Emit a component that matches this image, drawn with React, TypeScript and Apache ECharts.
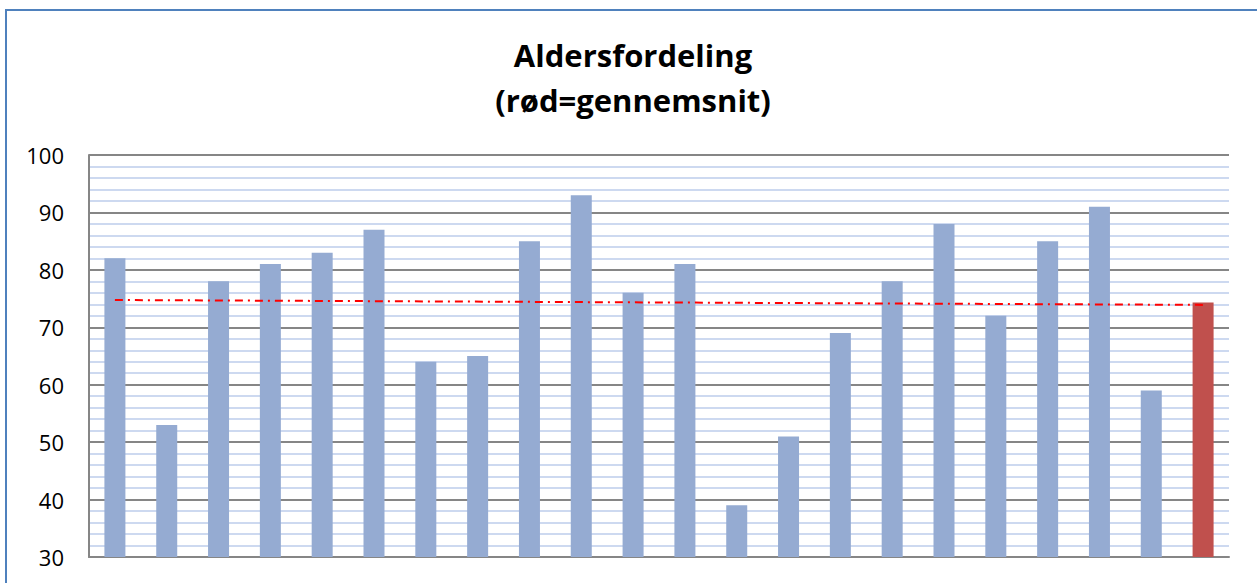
import React, { useEffect, useRef } from "react";
import * as echarts from "echarts";

// ---- data ----
const categories: string[] = [
  "1", "2", "3", "4", "5", "6", "7", "8", "9", "10", "11",
  "12", "13", "14", "15", "16", "17", "18", "19", "20", "21", "Gennemsnit",
];
const ages: number[] = [82, 53, 78, 81, 83, 87, 64, 65, 85, 93, 76, 81, 39, 51, 69, 78, 88, 72, 85, 91, 59];
const averageValue: number = 74.3;
// linear trend line (start at first category, end at last category)
const trendValues: number[] = [74.75, 73.9];
const yTicks = { min: 30, max: 100, interval: 10 };

const titleLines: string[] = ["Aldersfordeling", "(rød=gennemsnit)"];

export default function App() {
  const ref = useRef<HTMLDivElement>(null);

  useEffect(() => {
    document.body.style.margin = "0";
    if (!ref.current) return;
    const chart = echarts.init(ref.current, undefined, { renderer: "svg" });

    const barData: any[] = ages.map((v) => ({ value: v }));
    barData.push({ value: averageValue, itemStyle: { color: "#c0504d" } });

    const trendData = [
      [0, trendValues[0]],
      [categories.length - 1, trendValues[1]],
    ];

    chart.setOption({
      animation: false,
      backgroundColor: "#ffffff",
      title: {
        text: titleLines.join("\n"),
        left: 633,
        top: 32,
        textAlign: "center",
        padding: 0,
        textStyle: {
          fontFamily: "Open Sans",
          fontWeight: "bold",
          fontSize: 31,
          lineHeight: 45,
          color: "#000000",
        },
      },
      graphic: [
        {
          type: "rect",
          shape: { x: 6, y: 10, width: 1400, height: 800 },
          style: { fill: "none", stroke: "#4f81bd", lineWidth: 2 },
          silent: true,
          z: 0,
        },
      ],
      grid: { left: 89, right: 28, top: 155, bottom: 26, containLabel: false },
      xAxis: {
        type: "category",
        data: categories,
        axisLine: { show: true, lineStyle: { color: "#868686", width: 2 } },
        axisTick: { show: false },
        axisLabel: { show: false },
        splitLine: { show: false },
      },
      yAxis: {
        type: "value",
        min: yTicks.min,
        max: yTicks.max,
        interval: yTicks.interval,
        axisLine: { show: true, lineStyle: { color: "#868686", width: 2 } },
        axisTick: { show: false },
        axisLabel: {
          color: "#000000",
          fontFamily: "Open Sans",
          fontSize: 22,
          margin: 25,
        },
        splitLine: { show: true, lineStyle: { color: "#868686", width: 2 } },
        minorTick: { show: false, splitNumber: 5 },
        minorSplitLine: { show: true, lineStyle: { color: "#bccdeb", width: 1.5 } },
      },
      series: [
        {
          type: "bar",
          data: barData,
          barWidth: 21,
          itemStyle: { color: "#95abd2" },
          z: 2,
        },
        {
          type: "line",
          data: trendData,
          symbol: "none",
          lineStyle: { color: "#ff0000", width: 2, type: [8, 5, 2, 5] },
          z: 5,
        },
      ],
    });

    return () => chart.dispose();
  }, []);

  return (
    <div
      ref={ref}
      style={{ position: "absolute", left: 0, top: 0, width: 1257, height: 583 }}
    />
  );
}
